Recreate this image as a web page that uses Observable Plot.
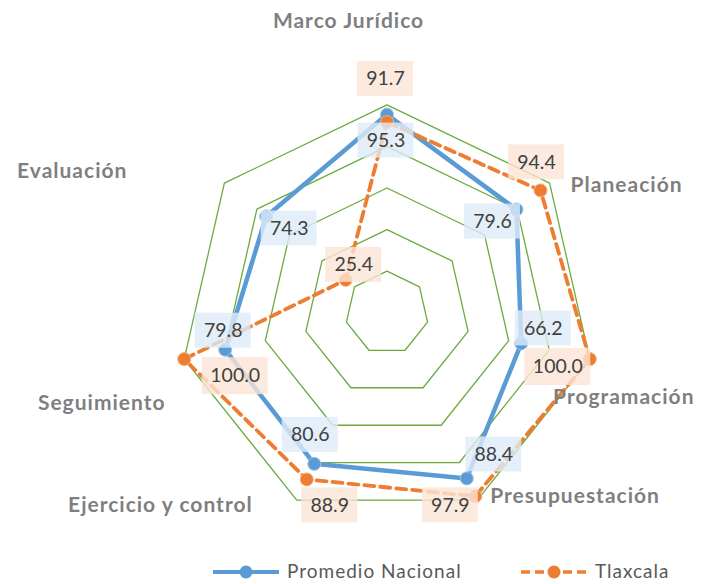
<!DOCTYPE html>
<html>
<head>
<meta charset="utf-8">
<script src="https://cdn.jsdelivr.net/npm/d3@7"></script>
<script src="https://cdn.jsdelivr.net/npm/@observablehq/plot@0.6"></script>
<style>
  body { margin: 0; background: #fff; }
  #wrap { position: relative; width: 702px; height: 584px; font-family: Lato, "Open Sans", sans-serif; }
  #legend { position: absolute; left: 0; top: 545px; width: 702px; height: 39px; }
  .lg { position: absolute; top: 0; height: 39px; }
  .lgt { position: absolute; top: 15px; font-size: 19px; color: #595959; line-height: 22px; white-space: nowrap; letter-spacing: 1px; }
</style>
</head>
<body>
<div id="wrap">
  <div id="chart"></div>
  <div id="legend"></div>
</div>
<script>
// ---------- data ----------
const categories = ["Marco Jurídico", "Planeación", "Programación", "Presupuestación", "Ejercicio y control", "Seguimiento", "Evaluación"];
const promedioNacional = [95.3, 79.6, 66.2, 88.4, 80.6, 79.8, 74.3];
const tlaxcala = [91.7, 94.4, 100.0, 97.9, 88.9, 100.0, 25.4];
const ringLevels = [20, 40, 60, 80, 100];
const seriesNames = ["Promedio Nacional", "Tlaxcala"];

// ---------- layout / style ----------
const W = 702, H = 545;
const cx = 386.5, cy = 312.3, R = 208; // centre and pixel radius of value 100
const k = R / 100;
const colors = {"Promedio Nacional": "#5b9bd5", "Tlaxcala": "#ed7d31"};
const boxFill = {"Promedio Nacional": "#deebf7", "Tlaxcala": "#fbe5d6"};
const n = categories.length;
const ang = i => 2 * Math.PI * i / n;
const px = (v, i) => v * Math.sin(ang(i));
const py = (v, i) => v * Math.cos(ang(i));

// label offsets (pixels) relative to each point
const labelOffsets = {
  "Promedio Nacional": [[-1, 26], [-24, 12], [22, -15], [27, -24], [-4, -29], [-2, -19], [23, 12]],
  "Tlaxcala": [[-1.5, -43], [-4, -28], [-32, 8], [-25, 9], [23, 26], [51, 17], [8, -15]]
};
// category label offsets (pixels) relative to outer vertex
const catStyle = [
  {dx: -38.5, dy: -84, anchor: "middle"},
  {dx: 21, dy: 2.5, anchor: "start"},
  {dx: 104.7, dy: 38.5, anchor: "end"},
  {dx: 13, dy: -4, anchor: "start"},
  {dx: -44, dy: 5, anchor: "end"},
  {dx: -18.7, dy: 44.5, anchor: "end"},
  {dx: -97, dy: -11.5, anchor: "end"}
];

// ---------- derived tables ----------
const rings = ringLevels.flatMap(l => categories.map((c, i) => ({level: l, x: px(l, i), y: py(l, i)})));
const series = [
  {name: "Promedio Nacional", values: promedioNacional},
  {name: "Tlaxcala", values: tlaxcala}
];
const pts = series.map(s => s.values.map((v, i) => ({name: s.name, cat: categories[i], i, v, x: px(v, i), y: py(v, i)})));
const labels = pts.flat().map(d => {
  const [ox, oy] = labelOffsets[d.name][d.i];
  const txt = d.v.toFixed(1);
  const bw = txt.length > 4 ? 66 : 56, bh = txt.length > 4 ? 37 : 35;
  const lx = d.x + ox / k, ly = d.y - oy / k;
  return {...d, txt, lx, ly, x1: lx - bw / 2 / k, x2: lx + bw / 2 / k, y1: ly - bh / 2 / k, y2: ly + bh / 2 / k};
});

const marks = [];
// rings
for (const l of ringLevels) {
  marks.push(Plot.line(rings.filter(r => r.level === l), {x: "x", y: "y", curve: "linear-closed", stroke: "#6aab3f", strokeWidth: 1.3}));
}
// series
marks.push(Plot.line(pts[0], {x: "x", y: "y", curve: "linear-closed", stroke: colors["Promedio Nacional"], strokeWidth: 4.5, strokeLinejoin: "round"}));
marks.push(Plot.dot(pts[0], {x: "x", y: "y", r: 6.5, fill: colors["Promedio Nacional"], stroke: "#9dc3e6", strokeWidth: 1}));
marks.push(Plot.line(pts[1], {x: "x", y: "y", curve: "linear-closed", stroke: colors["Tlaxcala"], strokeWidth: 3.8, strokeDasharray: "10,6"}));
marks.push(Plot.dot(pts[1], {x: "x", y: "y", r: 6.5, fill: colors["Tlaxcala"], stroke: "#f4b183", strokeWidth: 1}));
// data label boxes + text
marks.push(Plot.rect(labels, {x1: "x1", x2: "x2", y1: "y1", y2: "y2", fill: d => boxFill[d.name], fillOpacity: 0.8}));
marks.push(Plot.text(labels, {x: "lx", y: "ly", text: "txt", fill: "#404040", fontSize: 19.5, fontFamily: "Lato"}));
// category labels
categories.forEach((c, i) => {
  const s = catStyle[i];
  marks.push(Plot.text([{c, x: px(100, i), y: py(100, i)}], {
    x: "x", y: "y", text: "c", dx: s.dx, dy: s.dy, textAnchor: s.anchor,
    fill: "#7f7f7f", fontSize: 21, fontWeight: "bold", fontFamily: "Lato"
  }));
});

const chart = Plot.plot({
  width: W, height: H,
  margin: 0,
  x: {domain: [-cx / k, (W - cx) / k], axis: null},
  y: {domain: [-(H - cy) / k, cy / k], axis: null},
  style: {background: "#fff", overflow: "visible"},
  marks
});
d3.select(chart).selectAll("text")
  .filter(function () { return categories.includes(this.textContent); })
  .attr("letter-spacing", "1px");
document.getElementById("chart").appendChild(chart);

// ---------- legend ----------
const legend = document.getElementById("legend");
const legendItems = [
  {name: seriesNames[0], lineX: 213, lineW: 66, textX: 287, dash: null},
  {name: seriesNames[1], lineX: 521, lineW: 66, textX: 595, dash: "9,5"}
];
for (const it of legendItems) {
  const svg = d3.create("svg").attr("class", "lg").attr("width", it.lineW + 4).attr("height", 39)
    .style("left", (it.lineX - 2) + "px");
  svg.append("line").attr("x1", 2).attr("x2", it.lineW + 2).attr("y1", 27).attr("y2", 27)
    .attr("stroke", colors[it.name]).attr("stroke-width", it.dash ? 3.5 : 4)
    .attr("stroke-dasharray", it.dash);
  svg.append("circle").attr("cx", 2 + it.lineW / 2).attr("cy", 27).attr("r", 6.5).attr("fill", colors[it.name]);
  legend.appendChild(svg.node());
  const t = document.createElement("div");
  t.className = "lgt";
  t.style.left = it.textX + "px";
  t.textContent = it.name;
  legend.appendChild(t);
}
</script>
</body>
</html>
